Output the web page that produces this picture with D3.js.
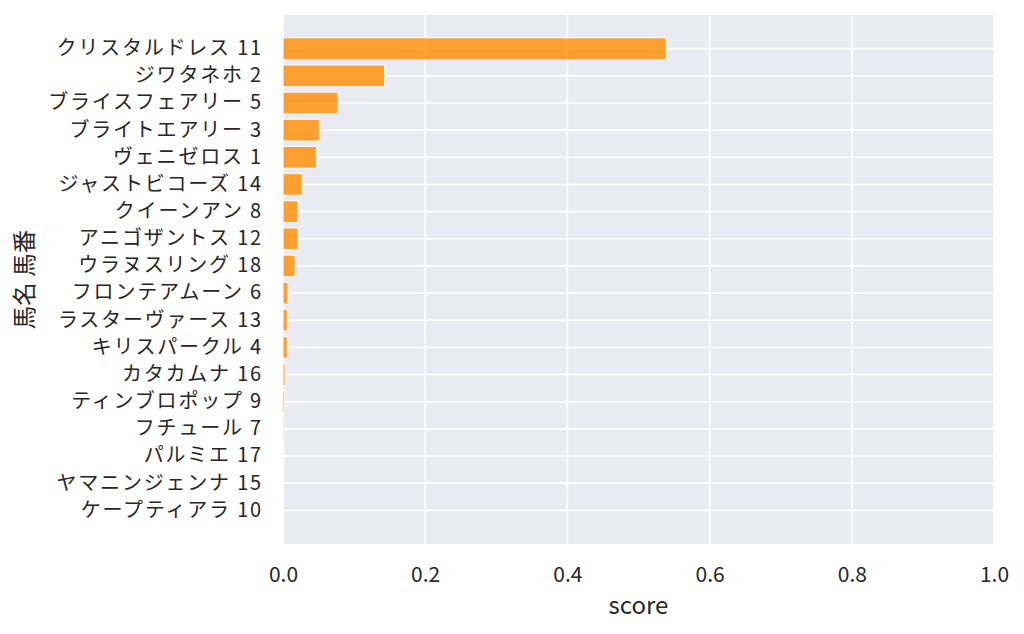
<!DOCTYPE html>
<html><head><meta charset="utf-8">
<script src="https://cdn.jsdelivr.net/npm/d3@7"></script>
<style>
html,body{margin:0;padding:0;background:#fff;}
text{font-family:"Noto Sans CJK JP","Noto Sans",sans-serif;fill:#262626;}
</style></head>
<body><svg id="c" width="1024" height="634"></svg>
<script>
const horses = ["クリスタルドレス 11","ジワタネホ 2","ブライスフェアリー 5","ブライトエアリー 3","ヴェニゼロス 1","ジャストビコーズ 14","クイーンアン 8","アニゴザントス 12","ウラヌスリング 18","フロンテアムーン 6","ラスターヴァース 13","キリスパークル 4","カタカムナ 16","ティンブロポップ 9","フチュール 7","パルミエ 17","ヤマニンジェンナ 15","ケープティアラ 10"];
const scores = [0.539,0.143,0.077,0.051,0.047,0.027,0.021,0.021,0.017,0.007,0.006,0.006,0.003,0.0025,0.0015,0.001,0.0004,0.0003];
const xTicks = [0,0.2,0.4,0.6,0.8,1.0];

const svg = d3.select("#c");
const L=283, R=994, T=15, B=544;
const x = d3.scaleLinear().domain([0,1]).range([L,R]);
const y = d3.scaleBand().domain(horses).range([T,B]).paddingInner(0.2).paddingOuter(0.84);

svg.append("rect").attr("x",L).attr("y",T).attr("width",R-L).attr("height",B-T).attr("fill","#eaeaf2");
// grid
svg.append("g").selectAll("line").data(xTicks).join("line")
  .attr("x1",d=>x(d)).attr("x2",d=>x(d)).attr("y1",T).attr("y2",B)
  .attr("stroke","#fff").attr("stroke-width",1.6);
svg.append("g").selectAll("line").data(horses).join("line")
  .attr("x1",L).attr("x2",R).attr("y1",d=>y(d)+y.bandwidth()/2).attr("y2",d=>y(d)+y.bandwidth()/2)
  .attr("stroke","#fff").attr("stroke-width",1.6);
// bars
svg.append("g").selectAll("rect").data(horses).join("rect")
  .attr("x",x(0)).attr("y",d=>y(d))
  .attr("width",(d,i)=>x(scores[i])-x(0)).attr("height",y.bandwidth())
  .attr("fill","darkorange").attr("fill-opacity",0.8)
  .attr("stroke","#fff").attr("stroke-width",1);
// axes
const xa = svg.append("g").attr("transform",`translate(0,${B})`)
  .call(d3.axisBottom(x).tickValues(xTicks).tickFormat(d3.format(".1f")).tickSize(0).tickPadding(23));
xa.select(".domain").remove();
xa.selectAll("text").attr("font-size",21).attr("fill","#262626");
const ya = svg.append("g").attr("transform",`translate(${L},0)`)
  .call(d3.axisLeft(y).tickSize(0).tickPadding(20));
ya.select(".domain").remove();
ya.selectAll("text").attr("font-size",20).attr("letter-spacing","1.8px").attr("fill","#262626");
svg.append("text").attr("x",(L+R)/2).attr("y",614).attr("text-anchor","middle").attr("font-size",24).text("score");
svg.append("text").attr("transform",`translate(33,${(T+B)/2}) rotate(-90)`).attr("text-anchor","middle").attr("font-size",23.5).text("馬名 馬番");
</script></body></html>
